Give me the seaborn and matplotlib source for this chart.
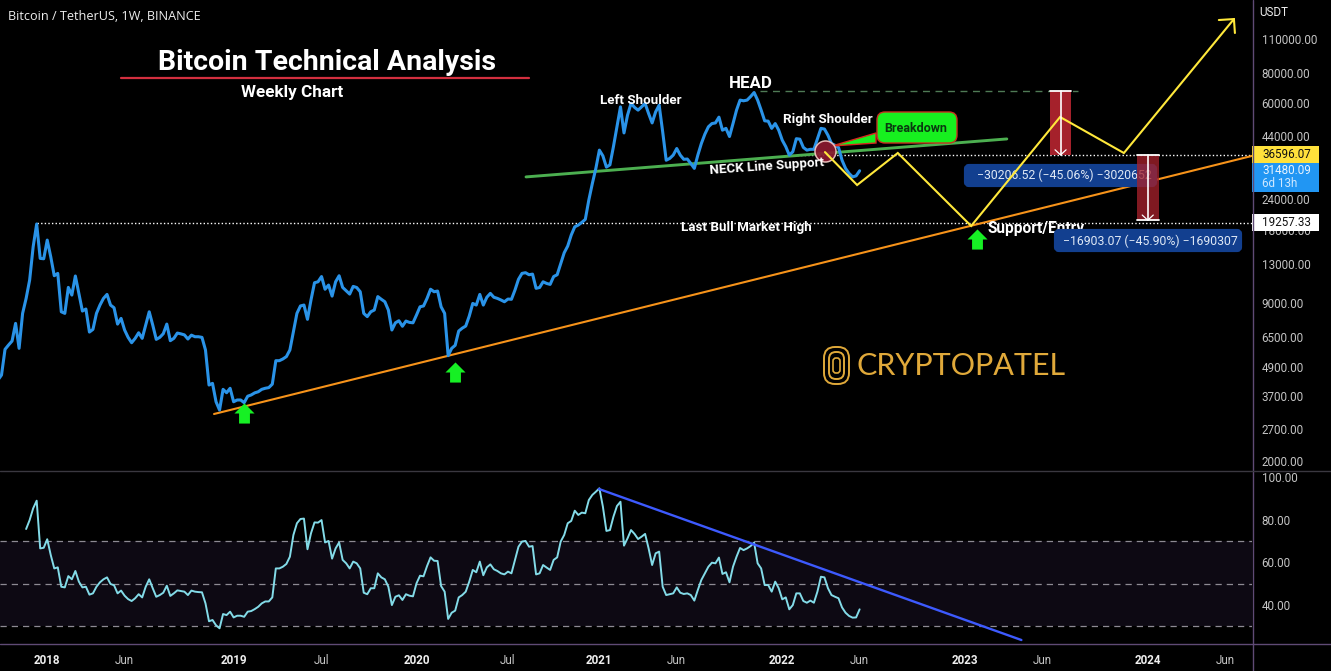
import numpy as np
import pandas as pd
import seaborn as sns
import matplotlib
matplotlib.use("Agg")
import matplotlib.pyplot as plt
from matplotlib.patches import FancyBboxPatch, Rectangle, Polygon
from matplotlib.lines import Line2D
from matplotlib.transforms import Affine2D

# ---------- data ----------
price = [
    4315,4525,5775,6017,6249,7390,5830,8127,9370,11150,
    15300,19000,13700,13650,16300,13910,11620,11880,8250,8127,
    10400,9670,11590,9825,8308,8470,6805,6980,8127,8795,
    9370,9730,8795,8570,7340,7750,6940,6470,6150,6410,
    6760,6410,7275,8250,7275,6350,6470,6700,7340,6270,
    6410,6740,6690,6625,6370,6610,6510,6510,6470,5740,
    4115,4180,3510,3245,3950,3825,3990,3510,3570,3570,
    3480,3700,3745,3820,3860,3950,3990,4015,4150,5185,
    5185,5270,5390,5740,6820,8127,8720,8795,7680,9230,
    10870,10970,11530,10220,10635,9575,10970,11620,10400,10075,
    9760,10500,10390,9980,8127,7880,8250,8390,9530,9290,
    9075,8390,6940,7430,7580,7190,7555,7460,7430,8000,
    8650,8720,9370,10220,9980,10045,8650,8127,5440,5830,
    6000,6871,7060,7205,7920,8930,8795,9730,8795,9470,
    9825,9470,9370,9230,9075,9310,9290,10140,11230,11880,
    11960,11730,11800,10310,10390,10970,10800,10700,11530,11730,
    13000,14450,15400,17100,18490,18800,19280,19840,23850,27900,
    32200,38300,36270,32600,33300,39600,47800,57770,45100,53360,
    59700,57500,56000,57770,59700,54200,49600,55100,58700,45600,
    34800,35400,36540,38900,36540,35100,35200,33750,32200,36540,
    40800,44590,47800,49300,49600,52400,46300,47100,43600,49300,
    56000,61600,61200,61600,63700,66200,61600,56000,50600,50440,
    47100,49300,46300,42100,39600,36540,37700,42700,42500,39300,
    38300,38600,38600,42700,47100,46800,44100,40800,40100,39300,
    34800,32200,30700,29700,30000,31480,
]
rsi = [
    75.6,79.8,85.3,88.9,66.5,66.8,70.8,63.4,57.1,57.6,48.5,48.2,
    53.5,52.0,55.9,50.9,48.2,48.5,44.8,45.4,48.5,50.6,52.0,52.9,
    49.8,49.2,45.4,46.7,44.3,42.7,41.8,43.1,45.0,43.5,48.5,52.0,
    47.8,43.8,44.6,45.7,49.0,44.2,45.4,46.8,46.5,46.2,44.6,46.7,
    46.2,46.0,45.9,40.7,32.3,32.9,30.4,29.0,35.7,35.2,36.8,34.1,
    34.9,34.9,34.4,36.8,37.1,38.0,39.1,40.7,41.6,41.6,43.5,57.1,
    57.1,57.9,59.2,62.6,72.8,78.3,80.3,80.5,66.1,73.6,78.7,78.6,
    79.8,69.3,70.0,61.7,66.5,69.3,61.1,59.5,57.1,60.3,59.5,57.1,
    45.7,45.0,47.8,47.8,54.8,52.9,52.0,48.5,39.9,43.8,44.5,42.3,
    45.0,44.3,44.0,50.1,53.7,53.4,58.2,62.3,60.7,60.6,48.8,46.2,
    33.4,36.3,37.3,43.5,44.6,46.2,50.9,56.4,55.3,60.3,53.9,57.6,
    59.0,56.7,55.9,54.8,54.3,55.6,54.8,61.1,67.3,69.7,70.0,67.3,
    67.6,54.3,54.8,58.7,57.5,56.4,61.1,62.3,69.7,72.8,78.3,79.4,
    84.2,82.2,83.3,83.0,89.2,91.6,93.1,94.7,86.1,74.7,75.1,81.4,
    86.4,88.4,67.8,71.2,75.1,73.3,70.9,72.0,73.3,66.5,58.7,64.2,
    65.0,48.5,44.6,45.0,45.4,48.2,45.7,45.1,45.4,44.6,42.0,47.0,
    51.7,54.8,57.9,59.8,59.5,62.2,54.5,55.3,50.6,57.9,62.6,66.7,
    65.7,66.5,67.6,69.2,59.5,57.1,49.3,49.3,46.2,50.9,47.8,42.6,
    43.5,37.9,39.9,45.4,45.4,41.8,41.0,42.0,41.0,46.2,53.2,52.9,
    47.8,44.6,43.8,43.1,38.8,36.3,34.8,34.0,34.1,37.9,
]
first_week = "2017-09-25"

price_ticks = [110000, 80000, 60000, 44000, 24000, 18000, 13000, 9000, 6500, 4900, 3700, 2700, 2000]
price_tick_labels = ["110000.00", "80000.00", "60000.00", "44000.00", "24000.00", "18000.00", "13000.00",
                     "9000.00", "6500.00", "4900.00", "3700.00", "2700.00", "2000.00"]
rsi_ticks = [100, 80, 60, 40]
rsi_tick_labels = ["100.00", "80.00", "60.00", "40.00"]
rsi_levels = [70, 50, 30]

year_dates = ["2018-01-01", "2019-01-07", "2020-01-06", "2021-01-04", "2022-01-03", "2023-01-02", "2024-01-01"]
year_labels = ["2018", "2019", "2020", "2021", "2022", "2023", "2024"]
month_dates = ["2018-06-04", "2019-07-01", "2020-07-06", "2021-06-07", "2022-06-06", "2023-06-05", "2024-06-03"]
month_labels = ["Jun", "Jul", "Jul", "Jun", "Jun", "Jun", "Jun"]

support_dates = ["2018-11-29", "2024-07-26"]
support_prices = [3125, 36260]
neck_dates = ["2020-08-11", "2023-03-26"]
neck_prices = [29700, 42600]
path_dates = ["2022-03-29", "2022-06-01", "2022-08-21", "2023-01-14", "2023-07-10", "2023-11-14", "2024-06-20"]
path_prices = [37600, 27500, 37270, 18640, 52470, 37270, 133000]
head_dates = ["2024-05-21", "2024-06-20", "2024-06-22"]
head_prices = [131800, 133000, 116500]
rsi_trend_dates = ["2021-01-03", "2023-04-24"]
rsi_trend_values = [94.4, 23.5]
buy_dates = ["2019-01-28", "2020-03-23", "2023-01-26"]
buy_prices = [3155, 4660, 16460]
high_level, high_start = 19257.33, "2017-12-11"
neck_level, neck_start = 36596.07, "2022-02-01"
head_level, head_start, head_end = 67200, "2021-11-20", "2023-08-15"
drop1_dates, drop1_prices = ["2023-06-20", "2023-08-01"], [67100, 36596]
drop2_dates, drop2_prices = ["2023-12-10", "2024-01-22"], [36596, 19693]
break_date, break_price = "2022-03-29", 38100

# ---------- style ----------
sns.set_theme(style="dark", rc={"axes.facecolor": "black", "figure.facecolor": "black",
                                "savefig.facecolor": "black", "axes.grid": False})
plt.rcParams["font.family"] = ["Roboto", "DejaVu Sans"]

W, H = 1331, 671
fig = plt.figure(figsize=(W / 100, H / 100), dpi=100)
ax = fig.add_axes([0, 1 - 470 / H, 1252 / W, 470 / H])
ax2 = fig.add_axes([0, 1 - 643 / H, 1252 / W, 173 / H])
px = Affine2D().scale(1, -1).translate(0, H)   # layout helper for labels, in picture pixels

T = pd.to_datetime
weeks = pd.date_range(first_week, periods=len(price), freq="7D")
xmin, xmax = T("2017-09-29"), T("2024-07-26")

# ---------- price pane ----------
sns.lineplot(x=weeks, y=price, ax=ax, color="#2a93e8", lw=2.2, estimator=None, sort=False, zorder=5,
             solid_joinstyle="round", solid_capstyle="round", legend=False)
ax.set_yscale("log")
ax.set_xlim(xmin, xmax)
ax.set_ylim(1836, 159400)
ax.minorticks_off()
ax.set_yticks(price_ticks)
ax.set_yticklabels(price_tick_labels)
ax.yaxis.tick_right()
ax.tick_params(axis="y", length=0, pad=7, labelsize=8.4, labelcolor="#c4c4c4")
ax.tick_params(axis="y", which="minor", length=0, labelright=False)
ax.set_xticks([])
ax.set_xlabel(""); ax.set_ylabel("")
for s in ax.spines.values():
    s.set_visible(False)

ax.plot([T(high_start), xmax], [high_level] * 2, color="white", lw=1, ls=(0, (1, 1.6)), zorder=3)
ax.plot([T(neck_start), xmax], [neck_level] * 2, color="white", lw=1, ls=(0, (1, 1.6)), zorder=3)
ax.plot([T(head_start), T(head_end)], [head_level] * 2, color="#4f7a55", lw=1, ls=(0, (5, 4)), zorder=3)

ax.plot(T(support_dates), support_prices, color="#f7931a", lw=1.5, zorder=4)
ax.plot(T(neck_dates), neck_prices, color="#4caf50", lw=2.1, zorder=4)

# callout pointer and break marker
ax.add_patch(Polygon([(876, 133), (832, 146), (876, 143)], closed=True, transform=px, facecolor="#17f01f",
                     edgecolor="#d7261e", lw=1, zorder=6))
ax.scatter([T(break_date)], [break_price], s=230, color="#8c1a30", edgecolor="#f2c9c4", lw=1.1, zorder=6, alpha=0.92)

# measure labels and bars
ax.add_patch(FancyBboxPatch((966, 166), 189, 19, boxstyle="round,pad=0,rounding_size=3", transform=px,
                            facecolor="#123f8f", edgecolor="#123f8f", lw=3, clip_on=False, zorder=6))
ax.text(1064, 175.5, "\u221230206.52 (\u221245.06%) \u22123020652", transform=px, color="#dfe8f5", fontsize=8.8,
        ha="center", va="center", zorder=7)
ax.fill_between(T(drop1_dates), drop1_prices[0], drop1_prices[1], color="#a5212b", lw=0, zorder=5)
ax.fill_between(T(drop2_dates), drop2_prices[0], drop2_prices[1], color="#a5212b", alpha=0.78, lw=0, zorder=8)
for d, p in zip((drop1_dates, drop2_dates), (drop1_prices, drop2_prices)):
    dd = T(d)
    mid = dd[0] + (dd[1] - dd[0]) / 2
    ax.plot(dd, [p[0], p[0]], color="white", lw=1.3, zorder=9)
    ax.plot([mid, mid], p, color="white", lw=1.2, zorder=9)
    ax.plot([mid - pd.Timedelta(days=11), mid, mid + pd.Timedelta(days=11)], [p[1] * 1.05, p[1], p[1] * 1.05],
            color="white", lw=0.9, zorder=9)
ax.plot(T(drop2_dates), [drop2_prices[1]] * 2, color="white", lw=1.3, zorder=9)

# projected path
ax.plot(T(path_dates), path_prices, color="#ffe83b", lw=1.5, zorder=7, solid_joinstyle="miter")
ax.plot(T(head_dates), head_prices, color="#ffe83b", lw=1.5, zorder=7, solid_joinstyle="miter")

# buy arrows
arrow = [(0, .5), (-.5, 0), (-.27, 0), (-.27, -.5), (.27, -.5), (.27, 0), (.5, 0), (0, .5)]
ax.scatter(T(buy_dates), buy_prices, marker=arrow, s=210, color="#16f024", lw=0, zorder=8)

# text overlays
def label(x, y, s, size, weight="bold", color="white", ha="center", z=8, **kw):
    ax.text(x, y, s, transform=px, fontsize=size, fontweight=weight, color=color, ha=ha, va="center",
            zorder=z, clip_on=False, **kw)

label(8, 16.5, "Bitcoin / TetherUS, 1W, BINANCE", 9.1, "normal", "#eeeeee", ha="left", family=["Open Sans", "DejaVu Sans"])
label(327, 62, "Bitcoin Technical Analysis", 20.5)
ax.plot([121, 529], [78, 78], transform=px, color="#d32f3f", lw=1.6, zorder=8)
label(292, 92.5, "Weekly Chart", 12.3)
label(641, 100, "Left Shoulder", 9.6)
label(751, 83, "HEAD", 12.2)
label(828, 120, "Right Shoulder", 9.6)
label(767, 166.5, "NECK Line Support", 9.6, rotation=4)
label(746, 227, "Last Bull Market High", 9.6)
label(988, 229, "Support/Entry", 11.2, ha="left", z=5.5)

ax.add_patch(FancyBboxPatch((880, 115), 74, 25, boxstyle="round,pad=3,rounding_size=8", transform=px,
                            facecolor="#17f01f", edgecolor="#c9301f", lw=1, clip_on=False, zorder=6.5))
label(916, 128.5, "Breakdown", 9, color="#0a3a10")

ax.add_patch(FancyBboxPatch((1056, 231), 184, 19, boxstyle="round,pad=0,rounding_size=3", transform=px,
                            facecolor="#123f8f", edgecolor="#123f8f", lw=3, clip_on=False, zorder=6))
label(1150, 241, "\u221216903.07 (\u221245.90%) \u22121690307", 8.8, "normal", "#dfe8f5")

# price scale boxes
ax.add_patch(Rectangle((1252, 146), 67, 17, transform=px, facecolor="#ffe13b", lw=0, clip_on=False, zorder=9))
ax.add_patch(Rectangle((1252, 163), 67, 29, transform=px, facecolor="#2196f3", lw=0, clip_on=False, zorder=9))
ax.add_patch(Rectangle((1252, 214), 67, 17, transform=px, facecolor="white", lw=0, clip_on=False, zorder=9))
label(1262, 154.5, "36596.07", 8.4, "normal", "#111111", ha="left", z=10)
label(1262, 170.5, "31480.09", 8.4, "normal", "#e8f4ff", ha="left", z=10)
label(1262, 183.5, "6d 13h", 8.4, "normal", "#cfe8ff", ha="left", z=10)
label(1262, 222.5, "19257.33", 8.4, "normal", "#111111", ha="left", z=10)
label(1259, 13, "USDT", 8.4, "normal", "#eeeeee", ha="left", z=10)

# logo
gold = "#e0a93a"
label(856, 366, "CRYPTOPATEL", 22, "normal", gold, ha="left", family=["Lato", "DejaVu Sans"])
for x0, y0, w, h, r in [(824, 347, 25, 37, 11), (829, 352, 15, 27, 7)]:
    ax.add_patch(FancyBboxPatch((x0, y0), w, h, boxstyle=f"round,pad=0,rounding_size={r}", transform=px,
                                facecolor="none", edgecolor=gold, lw=1.4, clip_on=False, zorder=8))
ax.add_patch(FancyBboxPatch((833, 358), 7, 15, boxstyle="round,pad=0,rounding_size=3", transform=px,
                            facecolor="none", edgecolor=gold, lw=1.2, clip_on=False, zorder=8))

# ---------- RSI pane ----------
ax2.axhspan(rsi_levels[2], rsi_levels[0], color="#0d0913", lw=0, zorder=1)
for lv in rsi_levels:
    ax2.axhline(lv, color="#8d8a93", lw=0.9, ls=(0, (5, 4)), zorder=2)
sns.lineplot(x=weeks[-len(rsi):], y=rsi, ax=ax2, color="#83dbe8", lw=1.4, estimator=None, sort=False, zorder=4,
             legend=False)
ax2.plot(T(rsi_trend_dates), rsi_trend_values, color="#3d5afe", lw=1.7, zorder=5)
ax2.set_xlim(xmin, xmax)
ax2.set_ylim(22.1, 103.3)
ax2.set_yticks(rsi_ticks)
ax2.set_yticklabels(rsi_tick_labels)
ax2.yaxis.tick_right()
ax2.tick_params(axis="y", length=0, pad=7, labelsize=8.4, labelcolor="#c4c4c4")
ax2.set_xlabel(""); ax2.set_ylabel("")
all_dates = T(year_dates + month_dates)
ax2.set_xticks(all_dates)
ax2.set_xticklabels(year_labels + month_labels)
ax2.tick_params(axis="x", length=0, pad=8, labelsize=8.4, labelcolor="#c4c4c4")
for t, s in zip(ax2.get_xticklabels(), year_labels + month_labels):
    if s.isdigit():
        t.set_fontweight("bold"); t.set_color("#eeeeee")
for s in ax2.spines.values():
    s.set_visible(False)

# pane separators
fig.add_artist(Line2D([1252.5 / W] * 2, [0, 1], color="#5f4a75", lw=1))
fig.add_artist(Line2D([0, 1], [1 - 470.5 / H] * 2, color="#3a3840", lw=1))
fig.add_artist(Line2D([0, 1], [1 - 643.5 / H] * 2, color="#5f4a75", lw=1))

fig.savefig("out.png", dpi=100, facecolor="black")
